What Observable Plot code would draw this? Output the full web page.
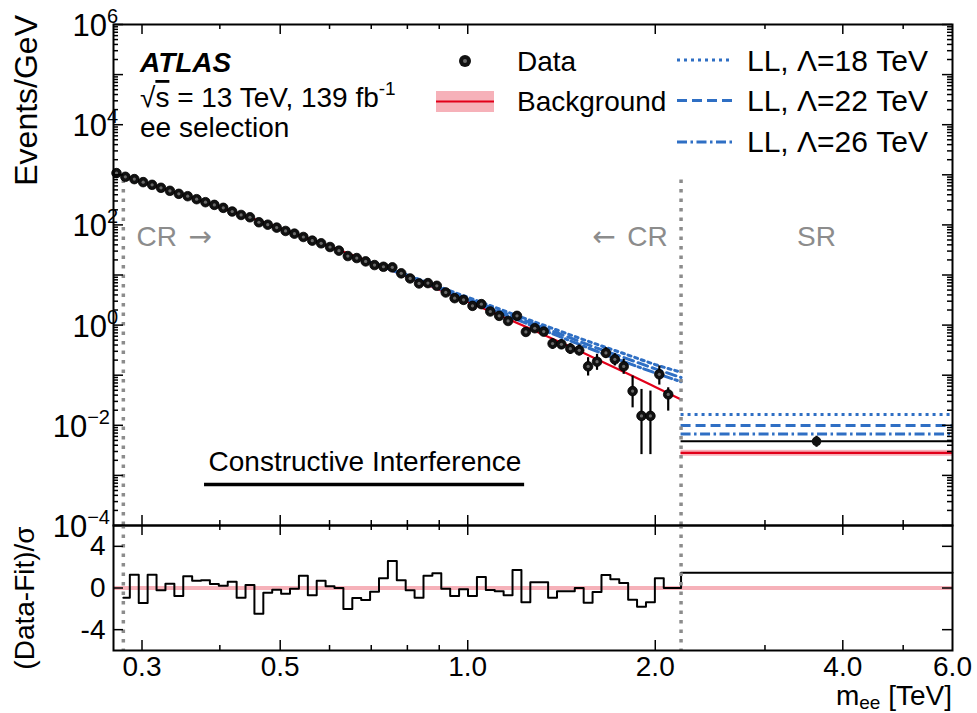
<!DOCTYPE html>
<html><head><meta charset="utf-8">
<script src="https://cdn.jsdelivr.net/npm/d3@7"></script>
<script src="https://cdn.jsdelivr.net/npm/@observablehq/plot@0.6"></script>
<style>
body{margin:0;background:#fff;}
#wrap{position:relative;width:977px;height:713px;font-family:"Liberation Sans",Arial,sans-serif;}
#wrap svg{position:absolute;left:0;overflow:visible;}
</style></head><body><div id="wrap"></div>
<script>
// ---------------- data ----------------
const massCenters = [0.2730,0.2821,0.2916,0.3013,0.3114,0.3218,0.3326,0.3437,0.3552,0.3671,0.3793,0.3920,0.4051,0.4187,0.4327,0.4471,0.4621,0.4775,0.4935,0.5100,0.5270,0.5447,0.5629,0.5817,0.6011,0.6212,0.6420,0.6635,0.6857,0.7086,0.7323,0.7568,0.7821,0.8082,0.8353,0.8632,0.8920,0.9219,0.9527,0.9846,1.0177,1.0517,1.0869,1.1232,1.1608,1.1996,1.2397,1.2812,1.3240,1.3683,1.4138,1.4611,1.5099,1.5604,1.6126,1.6665,1.7222,1.7798,1.8393,1.9008,1.9645,2.0301,2.0980];
const dataValues = [1081,913,820,714,631,550,479,417,374,326,284,251,219,185,158,142,113,101,88.3,75.7,66.9,57.4,48.5,42.9,36.2,30.6,23.9,21.8,18.7,15.8,14.6,14.2,10.8,8.54,6.78,6.89,6.09,4.48,3.45,3.19,2.42,2.62,1.87,1.53,1.21,1.53,0.731,0.866,0.742,0.427,0.414,0.339,0.314,0.150,0.186,0.278,0.207,0.150,0.0482,0.0154,0.0154,0.104,0.0413];
const N0 = null;
const errLow  = [N0,N0,N0,N0,N0,N0,N0,N0,N0,N0,N0,N0,N0,N0,N0,N0,N0,N0,N0,N0,N0,N0,N0,N0,N0,N0,N0,N0,N0,N0,N0,N0,N0,N0,N0,N0,N0,N0,N0,N0,N0,N0,N0,N0,1.07,1.35,0.589,0.709,0.608,0.329,0.324,0.261,0.242,0.0962,0.125,0.217,0.153,0.104,0.0223,0.0026,0.0026,0.0635,0.0192];
const errHigh = [N0,N0,N0,N0,N0,N0,N0,N0,N0,N0,N0,N0,N0,N0,N0,N0,N0,N0,N0,N0,N0,N0,N0,N0,N0,N0,N0,N0,N0,N0,N0,N0,N0,N0,N0,N0,N0,N0,N0,N0,N0,N0,N0,N0,1.37,1.73,0.866,1.01,0.866,0.537,0.513,0.427,0.401,0.224,0.261,0.355,0.269,0.207,0.0962,0.0520,0.0482,0.153,0.0561];

const bgMass   = [0.28,0.35,0.45,0.6,0.7,0.8,1.0,1.25,1.5,1.8,2.0,2.2];
const bgValues = [945,392,136,37.2,17.8,9.23,2.94,0.883,0.317,0.1096,0.0583,0.0326];

const sigMass = [0.7,0.8,1.0,1.2,1.4,1.6,1.8,2.0,2.2];
const sig18 = [17.8,9.97,3.59,1.55,0.774,0.426,0.258,0.163,0.115];
const sig22 = [17.8,9.69,3.35,1.40,0.680,0.361,0.214,0.134,0.090];
const sig26 = [17.8,9.51,3.18,1.28,0.600,0.311,0.178,0.111,0.074];
const sigLabels = ["LL, Λ=18 TeV","LL, Λ=22 TeV","LL, Λ=26 TeV"];

// signal region (single bin 2.2 - 6.0 TeV)
const srRange = [2.2, 6.0];
const srSignal = [0.01643, 0.00989, 0.00674];
const srBackground = 0.00281, srBandLow = 0.00241, srBandHigh = 0.00317;
const srData = {m: 3.63, v: 0.0048, lo: 0.00364, hi: 0.00605};
const srRatio = 1.46;

// (Data-Fit)/sigma, control region bins 2..63
const ratioValues = [-0.93,1.28,-1.44,1.28,-0.22,0.41,-0.77,1.12,0.70,0.74,0.38,0.22,0.60,-0.93,0.29,-2.47,-0.45,-0.16,-0.55,-0.07,1.18,-0.70,0.70,0.16,0.0,-2.02,-0.96,-1.15,-0.36,0.93,2.59,0.74,-0.22,-0.93,1.18,1.41,-0.07,-0.77,-0.12,-0.77,1.06,-0.19,-0.32,-0.70,1.73,-1.37,0.55,0.55,-0.93,-0.32,-0.32,0.0,-1.41,-0.38,1.25,0.84,0.48,-1.12,-1.80,-1.37,0.93,0.0];

const crBounds = [0.28, 2.2];
const xLabelTicks = [0.3, 0.5, 1.0, 2.0, 4.0, 6.0];
const xMajorTicks = [0.3, 0.5, 1.0, 2.0, 4.0];
const xMinorTicks = [0.4, 0.6, 0.7, 0.8, 0.9, 3.0, 5.0];
const yLabelExps = [6, 4, 2, 0, -2, -4];
const ratioTicks = [4, 0, -4];

// ---------------- layout ----------------
const W = 977, ML = 113, MR = 25, MT = 24, TOPH = 525, RATH = 188, MB = 63;
const PW = W - ML - MR, PH = TOPH - MT, RPH = RATH - MB;
const RED = "#e2001a", PINK = "#f6b1b9", BLUE = "#2f6fc4", GRAY = "#8c8c8c";
const FONT = "Liberation Sans, Arial, sans-serif";
const FS = 28;

const points = massCenters.map((m, i) => ({m, v: dataValues[i], lo: errLow[i], hi: errHigh[i]}));
const errPts = points.filter(d => d.lo != null);
const bg = bgMass.map((m, i) => ({m, v: bgValues[i]}));
const sigs = [sig18, sig22, sig26].map(arr => sigMass.map((m, i) => ({m, v: arr[i]})));
const dashes = ["3,4", "10,5", "10,3.5,2.5,3.5"];

const decades = d3.range(-4, 7).map(e => Math.pow(10, e));
const minorY = d3.range(-4, 6).flatMap(e => d3.range(2, 10).map(k => k * Math.pow(10, e)));

function tickMarks(opts) {
  const {yMaj, yMin, len = 10, mlen = 5} = opts;
  const s = {stroke: "black", strokeWidth: 1.5};
  const m = [];
  m.push(Plot.tickX(xMajorTicks, {x: d => d, insetBottom: opts.ph - len, ...s}));
  m.push(Plot.tickX(xMajorTicks, {x: d => d, insetTop: opts.ph - len, ...s}));
  m.push(Plot.tickX(xMinorTicks, {x: d => d, insetBottom: opts.ph - mlen, ...s}));
  m.push(Plot.tickX(xMinorTicks, {x: d => d, insetTop: opts.ph - mlen, ...s}));
  m.push(Plot.tickY(yMaj, {y: d => d, insetRight: PW - len, ...s}));
  m.push(Plot.tickY(yMaj, {y: d => d, insetLeft: PW - len, ...s}));
  if (yMin) {
    m.push(Plot.tickY(yMin, {y: d => d, insetRight: PW - mlen, ...s}));
    m.push(Plot.tickY(yMin, {y: d => d, insetLeft: PW - mlen, ...s}));
  }
  return m;
}

// ---------------- top panel ----------------
const topPlot = Plot.plot({
  width: W, height: TOPH, marginLeft: ML, marginRight: MR, marginTop: MT, marginBottom: 0,
  style: {fontFamily: FONT, background: "transparent", overflow: "visible"},
  x: {type: "log", domain: [0.27, 6.0], axis: null},
  y: {type: "log", domain: [1e-4, 1e6], axis: null},
  marks: [
    Plot.rect([0], {x1: srRange[0], x2: srRange[1], y1: srBandLow, y2: srBandHigh, fill: PINK}),
    Plot.ruleY([srBackground], {x1: srRange[0], x2: srRange[1], stroke: RED, strokeWidth: 2.2}),
    Plot.line(bg, {x: "m", y: "v", stroke: RED, strokeWidth: 2.2, curve: "natural"}),
    ...sigs.map((s, i) => Plot.line(s, {x: "m", y: "v", stroke: BLUE, strokeWidth: 3, strokeDasharray: dashes[i], curve: "natural"})),
    ...srSignal.map((v, i) => Plot.ruleY([v], {x1: srRange[0], x2: srRange[1], stroke: BLUE, strokeWidth: 3, strokeDasharray: dashes[i]})),
    Plot.ruleY([srData.v], {x1: srRange[0], x2: srRange[1], stroke: "black", strokeWidth: 2}),
    Plot.ruleX(crBounds, {x: d => d, y1: 1e-4, y2: 800, stroke: GRAY, strokeWidth: 3.5, strokeDasharray: "3.5,6"}),
    Plot.ruleX(errPts, {x: "m", y1: "lo", y2: "hi", stroke: "black", strokeWidth: 2.2}),
    Plot.ruleX([srData], {x: "m", y1: "lo", y2: "hi", stroke: "black", strokeWidth: 2.2}),
    Plot.dot(points, {x: "m", y: "v", r: 4.8, fill: "#111", stroke: "black", strokeWidth: 0.8}),
    Plot.dot(points, {x: "m", y: "v", r: 1.6, fill: "#6a6a6a"}),
    Plot.dot([srData], {x: "m", y: "v", r: 4.8, fill: "#111"}),
    Plot.ruleY([6.6e-4], {x1: 0.378, x2: 1.234, stroke: "black", strokeWidth: 3.5}),
    Plot.text(["Constructive Interference"], {x: 0.684, y: 1.82e-3, text: d => d, fontSize: FS, fill: "black"}),
    Plot.text(["CR"], {x: 0.294, y: 56, text: d => d, textAnchor: "start", fontSize: FS, fill: GRAY}),
    Plot.text(["→"], {x: 0.294, y: 56, dx: 52, text: d => d, textAnchor: "start", fontSize: FS, fill: GRAY, fontFamily: "DejaVu Sans"}),
    Plot.text(["CR"], {x: 2.094, y: 56, text: d => d, textAnchor: "end", fontSize: FS, fill: GRAY}),
    Plot.text(["←"], {x: 2.094, y: 56, dx: -52, text: d => d, textAnchor: "end", fontSize: FS, fill: GRAY, fontFamily: "DejaVu Sans"}),
    Plot.text(["SR"], {x: 3.63, y: 56, text: d => d, fontSize: FS, fill: GRAY}),
    ...tickMarks({yMaj: decades, yMin: minorY, ph: PH}),
    Plot.frame({stroke: "black", strokeWidth: 2})
  ]
});

// ---------------- ratio panel ----------------
const ratioSteps = ratioValues.map((r, k) => {
  const i = k + 1;
  const edge = i === 1 ? crBounds[0] : Math.sqrt(massCenters[i - 1] * massCenters[i]);
  return {x: edge, y: r};
});
ratioSteps.push({x: srRange[0], y: srRatio}, {x: srRange[1], y: srRatio});

const ratioPlot = Plot.plot({
  width: W, height: RATH, marginLeft: ML, marginRight: MR, marginTop: 0, marginBottom: MB,
  style: {fontFamily: FONT, background: "transparent", overflow: "visible"},
  x: {type: "log", domain: [0.27, 6.0], axis: null},
  y: {domain: [-6, 6], axis: null},
  marks: [
    Plot.ruleY([0], {stroke: PINK, strokeWidth: 4}),
    Plot.line(ratioSteps, {x: "x", y: "y", curve: "step-after", stroke: "black", strokeWidth: 2}),
    Plot.ruleX(crBounds, {x: d => d, stroke: GRAY, strokeWidth: 3.5, strokeDasharray: "3.5,6"}),
    ...tickMarks({yMaj: ratioTicks, ph: RPH}),
    Plot.frame({stroke: "black", strokeWidth: 2}),
    Plot.text(ratioTicks, {y: d => d, frameAnchor: "left", dx: -8, textAnchor: "end", text: d => String(d), fontSize: FS, fill: "black"}),
    Plot.text(xLabelTicks, {x: d => d, frameAnchor: "bottom", lineAnchor: "top", dy: 6, text: d => d.toFixed(1), fontSize: FS, fill: "black"})
  ]
});

const wrap = document.getElementById("wrap");
topPlot.style.top = "0px";
ratioPlot.style.top = TOPH + "px";
wrap.appendChild(topPlot);
wrap.appendChild(ratioPlot);

// ---------------- text & legend ----------------
function txt(sel, x, y, anchor, fs) {
  return sel.append("text").attr("x", x).attr("y", y).attr("text-anchor", anchor || "start")
    .attr("font-size", fs || FS).attr("font-family", FONT).attr("fill", "black");
}
const ts = d3.select(topPlot);
const ysc = topPlot.scale("y");
yLabelExps.forEach(e => {
  const t = txt(ts, e < 0 ? ML - 3 : ML + 5, ysc.apply(Math.pow(10, e)) + 12, "end", 31);
  t.append("tspan").text("10");
  t.append("tspan").attr("dy", -13).attr("font-size", 20).text(e < 0 ? "−" + (-e) : String(e));
});
ts.append("text").attr("transform", "translate(37,15) rotate(-90)").attr("text-anchor", "end")
  .attr("font-size", 32).attr("font-family", FONT).attr("fill", "black").text("Events/GeV");

txt(ts, 140, 72).attr("font-weight", "bold").attr("font-style", "italic").text("ATLAS");
const rs = txt(ts, 140, 107);
rs.append("tspan").text("√");
rs.append("tspan").attr("style", "text-decoration: overline").text("s");
rs.append("tspan").text(" = 13 TeV, 139 fb");
rs.append("tspan").attr("dy", -12).attr("font-size", 19).text("-1");
txt(ts, 140, 137).text("ee selection");

ts.append("circle").attr("cx", 465).attr("cy", 61).attr("r", 6).attr("fill", "#111");
ts.append("circle").attr("cx", 465).attr("cy", 61).attr("r", 2).attr("fill", "#6a6a6a");
txt(ts, 517, 71).text("Data");
ts.append("rect").attr("x", 436).attr("y", 91).attr("width", 58).attr("height", 21).attr("fill", PINK);
ts.append("line").attr("x1", 436).attr("x2", 494).attr("y1", 101.5).attr("y2", 101.5).attr("stroke", RED).attr("stroke-width", 2.2);
txt(ts, 517, 111).text("Background");
sigLabels.forEach((lab, i) => {
  const yy = [60, 100.5, 142][i];
  ts.append("line").attr("x1", 677).attr("x2", 732).attr("y1", yy).attr("y2", yy)
    .attr("stroke", BLUE).attr("stroke-width", 3).attr("stroke-dasharray", dashes[i]);
  txt(ts, 747, [71, 111, 152][i], "start", 30).text(lab);
});

const rsv = d3.select(ratioPlot);
rsv.append("text").attr("transform", "translate(34,73) rotate(-90)").attr("text-anchor", "middle")
  .attr("font-size", FS).attr("font-family", FONT).attr("fill", "black").text("(Data-Fit)/σ");
const xt = txt(rsv, W - MR, 180, "end");
xt.append("tspan").text("m");
xt.append("tspan").attr("dy", 4).attr("font-size", 19).text("ee");
xt.append("tspan").attr("dy", -4).text(" [TeV]");
</script></body></html>
